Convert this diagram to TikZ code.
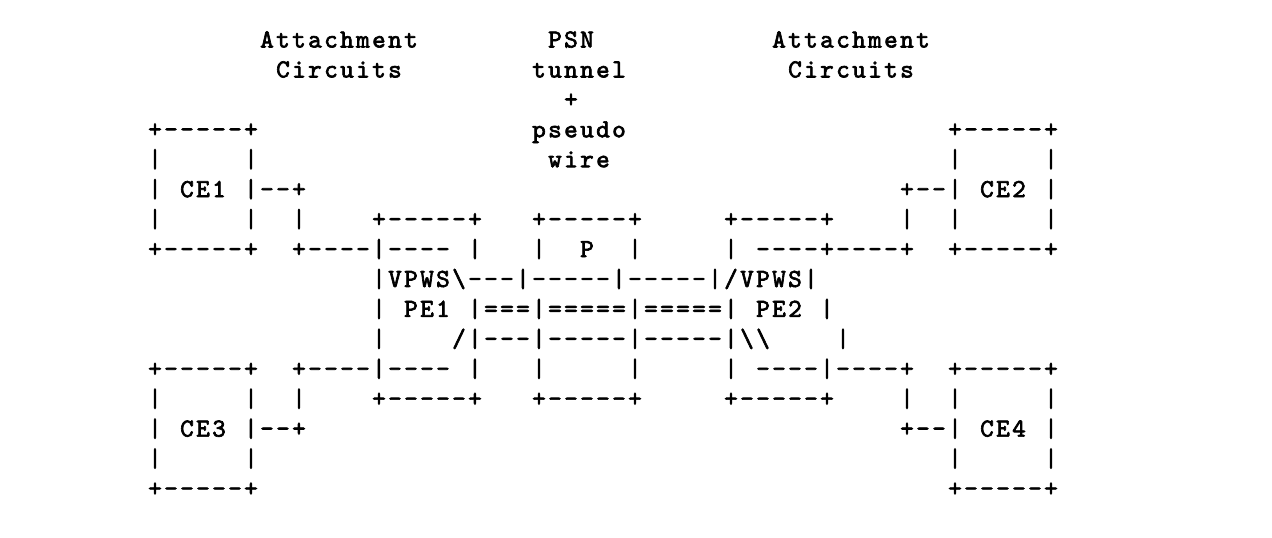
\documentclass[tikz,border=0pt]{standalone}
\usepackage{fontspec}
\usepackage{tikz}
\newfontfamily\asciiface{lmmono10-regular.otf}[FakeBold=2.5]
\newcommand{\asciifont}{\asciiface\fontsize{26pt}{30pt}\selectfont}
% one character per 16pt cell, ~ is an empty cell
\newcommand{\cellrow}[1]{\cellloop#1\relax}
\def\cellloop#1{\ifx#1\relax\else\makebox[16pt]{#1}\expandafter\cellloop\fi}

\begin{document}
\begin{tikzpicture}[
    x=16pt, y=-29.93pt,
    ascii/.style={anchor=base west, inner sep=0pt, outer sep=0pt, font=\asciifont}
]
  \useasboundingbox[fill=white] (-9.1875,-0.587) rectangle (70.3125,17.388);

  % headings
  \node[ascii] (acL) at (7,1) {\cellrow{Attachment}};
  \node[ascii] (psn) at (25,1) {\cellrow{PSN}};
  \node[ascii] (acR) at (39,1) {\cellrow{Attachment}};
  \node[ascii] (ciL) at (8,2) {\cellrow{Circuits}};
  \node[ascii] (tunnel) at (24,2) {\cellrow{tunnel}};
  \node[ascii] (ciR) at (40,2) {\cellrow{Circuits}};
  \node[ascii] (plus) at (26,3) {\cellrow{+}};
  \node[ascii] (pseudo) at (24,4) {\cellrow{pseudo}};
  \node[ascii] (wire) at (25,5) {\cellrow{wire}};

  % upper CEs
  \node[ascii] (ce1top) at (0,4) {\cellrow{+-----+}};
  \node[ascii] (ce2top) at (50,4) {\cellrow{+-----+}};
  \node[ascii] (ce1a) at (0,5) {\cellrow{|~~~~~|}};
  \node[ascii] (ce2a) at (50,5) {\cellrow{|~~~~~|}};
  \node[ascii] (ce1) at (0,6) {\cellrow{|~CE1~|--+}};
  \node[ascii] (ce2) at (47,6) {\cellrow{+--|~CE2~|}};
  \node[ascii] (ce1b) at (0,7) {\cellrow{|~~~~~|~~|}};
  \node[ascii] (ce2b) at (47,7) {\cellrow{|~~|~~~~~|}};

  % PE1, P, PE2
  \node[ascii] (pe1top) at (14,7) {\cellrow{+-----+}};
  \node[ascii] (ptop) at (24,7) {\cellrow{+-----+}};
  \node[ascii] (pe2top) at (36,7) {\cellrow{+-----+}};
  \node[ascii] (ac1) at (0,8) {\cellrow{+-----+~~+----|----~|}};
  \node[ascii] (p) at (24,8) {\cellrow{|~~P~~|}};
  \node[ascii] (ac2) at (36,8) {\cellrow{|~----+----+~~+-----+}};
  \node[ascii] (vpws) at (14,9) {\cellrow{|VPWS\textbackslash---|-----|-----|/VPWS|}};
  \node[ascii] (pw) at (14,10) {\cellrow{|~PE1~|===|=====|=====|~PE2~|}};
  \node[ascii] (vpwsb) at (14,11) {\cellrow{|~~~~/|---|-----|-----|\textbackslash\textbackslash~~~~|}};
  \node[ascii] (ac3) at (0,12) {\cellrow{+-----+~~+----|----~|}};
  \node[ascii] (pbot) at (24,12) {\cellrow{|~~~~~|}};
  \node[ascii] (ac4) at (36,12) {\cellrow{|~----|----+~~+-----+}};
  \node[ascii] (pe1bot) at (14,13) {\cellrow{+-----+}};
  \node[ascii] (pbase) at (24,13) {\cellrow{+-----+}};
  \node[ascii] (pe2bot) at (36,13) {\cellrow{+-----+}};

  % lower CEs
  \node[ascii] (ce3b) at (0,13) {\cellrow{|~~~~~|~~|}};
  \node[ascii] (ce4b) at (47,13) {\cellrow{|~~|~~~~~|}};
  \node[ascii] (ce3) at (0,14) {\cellrow{|~CE3~|--+}};
  \node[ascii] (ce4) at (47,14) {\cellrow{+--|~CE4~|}};
  \node[ascii] (ce3a) at (0,15) {\cellrow{|~~~~~|}};
  \node[ascii] (ce4a) at (50,15) {\cellrow{|~~~~~|}};
  \node[ascii] (ce3bot) at (0,16) {\cellrow{+-----+}};
  \node[ascii] (ce4bot) at (50,16) {\cellrow{+-----+}};
\end{tikzpicture}
\end{document}
